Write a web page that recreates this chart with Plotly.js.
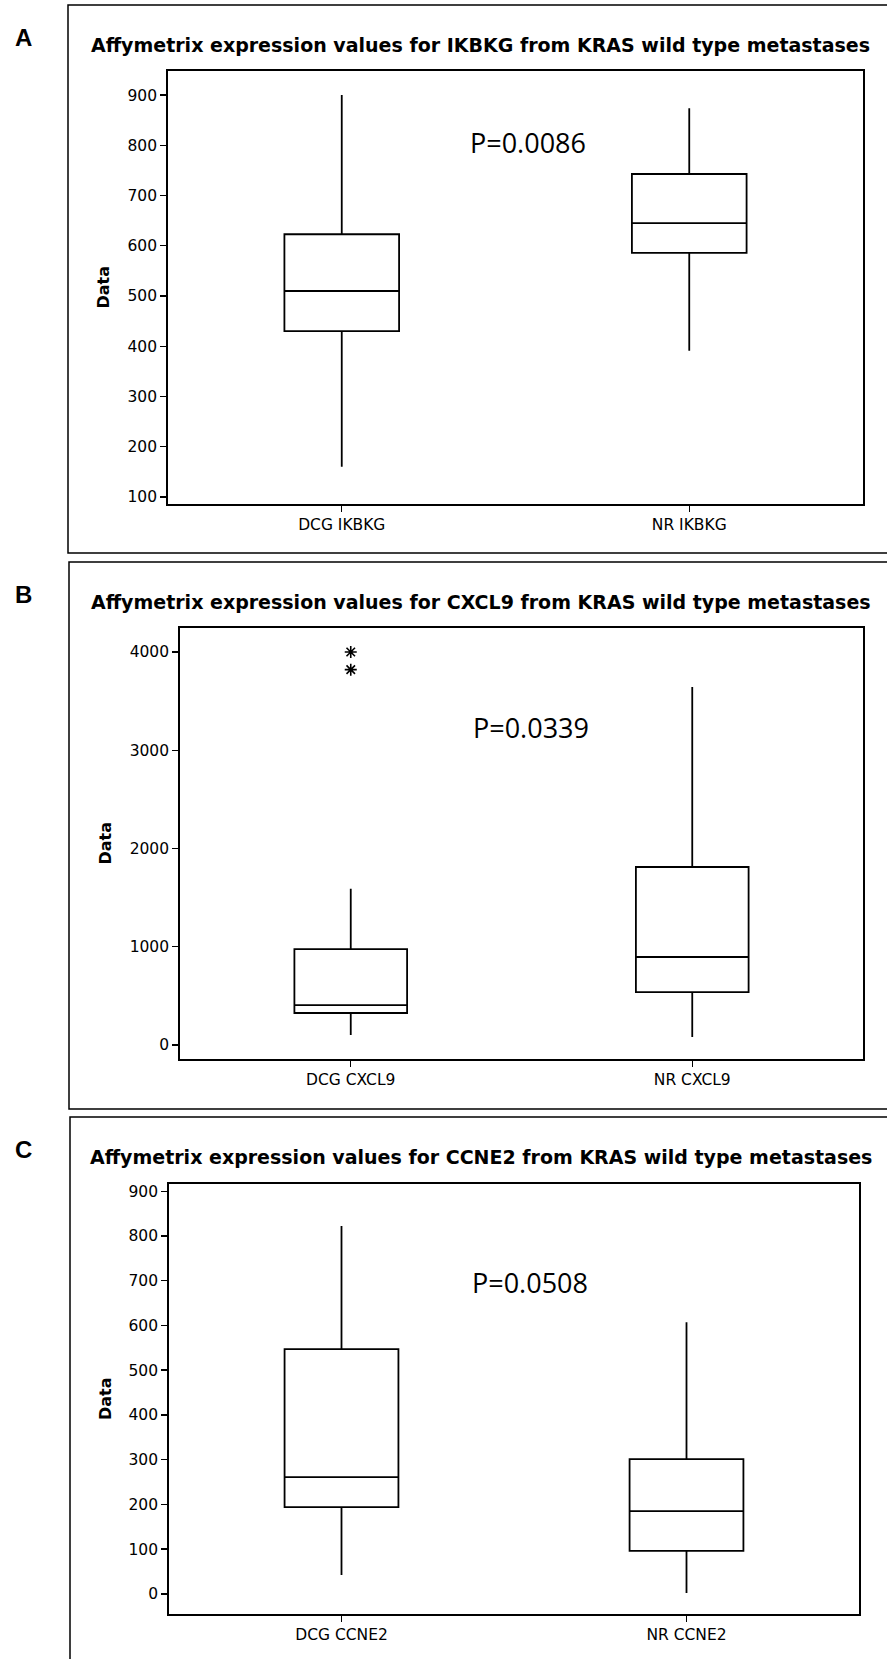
<!DOCTYPE html>
<html>
<head>
<meta charset="utf-8">
<script src="https://cdn.plot.ly/plotly-3.0.1.min.js"></script>
<style>
  html, body { margin: 0; padding: 0; background: #ffffff; }
  #chart { width: 887px; height: 1659px; }
</style>
</head>
<body>
<div id="chart"></div>
<script>
// ---------- Data ----------
// Panel A: IKBKG
const groupsA = ['DCG IKBKG', 'NR IKBKG'];
const lowA  = [160, 391];
const q1A   = [430, 586];
const medA  = [510, 645];
const q3A   = [623, 743];
const highA = [900, 874];

// Panel B: CXCL9
const groupsB = ['DCG CXCL9', 'NR CXCL9'];
const lowB  = [102, 81];
const q1B   = [326, 539];
const medB  = [407, 896];
const q3B   = [977, 1812];
const highB = [1590, 3644];
const outlierGroupB = ['DCG CXCL9', 'DCG CXCL9'];
const outlierValB   = [4000, 3820];

// Panel C: CCNE2
const groupsC = ['DCG CCNE2', 'NR CCNE2'];
const lowC  = [42, 2];
const q1C   = [194, 96];
const medC  = [261, 185];
const q3C   = [547, 301];
const highC = [822, 607];

const panelLabels = ['A', 'B', 'C'];
const panelTitles = [
  'Affymetrix expression values for IKBKG from KRAS wild type metastases',
  'Affymetrix expression values for CXCL9 from KRAS wild type metastases',
  'Affymetrix expression values for CCNE2 from KRAS wild type metastases'
];
const pValues = ['P=0.0086', 'P=0.0339', 'P=0.0508'];
const yTitle = 'Data';

// ---------- Layout helpers ----------
const W = 887, H = 1659;
const px = x => x / W;
const py = y => 1 - y / H;

const tickFont = { family: 'DejaVu Sans, Verdana, sans-serif', size: 15.5, color: '#000' };

function boxTrace(groups, low, q1, med, q3, high, xa, ya) {
  return {
    type: 'box',
    x: groups,
    lowerfence: low, q1: q1, median: med, q3: q3, upperfence: high,
    xaxis: xa, yaxis: ya,
    boxpoints: false,
    width: 0.33,
    whiskerwidth: 0,
    fillcolor: '#ffffff',
    line: { color: '#000000', width: 1.8 },
    showlegend: false,
    hoverinfo: 'y'
  };
}

const traces = [
  boxTrace(groupsA, lowA, q1A, medA, q3A, highA, 'x', 'y'),
  boxTrace(groupsB, lowB, q1B, medB, q3B, highB, 'x2', 'y2'),
  {
    type: 'scatter', mode: 'markers',
    x: outlierGroupB, y: outlierValB,
    xaxis: 'x2', yaxis: 'y2',
    marker: { symbol: 'asterisk-open', size: 10, color: '#000', line: { color: '#000', width: 1.6 } },
    showlegend: false
  },
  boxTrace(groupsC, lowC, q1C, medC, q3C, highC, 'x3', 'y3')
];

function xAxis(domain, cats, anchor) {
  return {
    domain: domain,
    anchor: anchor,
    type: 'category',
    categoryorder: 'array', categoryarray: cats,
    range: [-0.5, 1.5],
    showline: true, mirror: true, linecolor: '#000', linewidth: 1.8,
    showgrid: false, zeroline: false,
    ticks: 'outside', ticklen: 6, tickwidth: 1.3, tickcolor: '#000',
    tickfont: tickFont,
    fixedrange: true
  };
}
function yAxis(domain, range, tick0, dtick, anchor) {
  return {
    domain: domain,
    anchor: anchor,
    range: range,
    tick0: tick0, dtick: dtick,
    showline: true, mirror: true, linecolor: '#000', linewidth: 1.8,
    showgrid: false, zeroline: false,
    ticks: 'outside', ticklen: 6, tickwidth: 1.3, tickcolor: '#000',
    tickfont: tickFont,
    fixedrange: true
  };
}

// Panel geometry (pixels): frame tops, plot boxes
const frames = [
  { x0: 68, y0: 5,    y1: 553 },
  { x0: 69, y0: 562,  y1: 1109 },
  { x0: 70, y0: 1117, y1: 1680 }
];
const plots = [
  { l: 168, r: 863, t: 71,   b: 504 },
  { l: 180, r: 863, t: 628,  b: 1059 },
  { l: 169, r: 859, t: 1184, b: 1614 }
];

const layout = {
  width: W, height: H,
  margin: { l: 0, r: 0, t: 0, b: 0, pad: 0 },
  paper_bgcolor: '#ffffff', plot_bgcolor: '#ffffff',
  showlegend: false,
  xaxis:  xAxis([px(plots[0].l), px(plots[0].r)], groupsA, 'y'),
  yaxis:  yAxis([py(plots[0].b), py(plots[0].t)], [86, 948], 100, 100, 'x'),
  xaxis2: xAxis([px(plots[1].l), px(plots[1].r)], groupsB, 'y2'),
  yaxis2: yAxis([py(plots[1].b), py(plots[1].t)], [-142, 4244], 0, 1000, 'x2'),
  xaxis3: xAxis([px(plots[2].l), px(plots[2].r)], groupsC, 'y3'),
  yaxis3: yAxis([py(plots[2].b), py(plots[2].t)], [-45, 916], 0, 100, 'x3'),
  shapes: frames.map(f => ({
    type: 'rect', xref: 'paper', yref: 'paper',
    x0: px(f.x0), x1: px(W + 20), y0: py(f.y1), y1: py(f.y0),
    line: { color: '#000', width: 1.5 }, fillcolor: 'rgba(0,0,0,0)', layer: 'below'
  })),
  annotations: []
};

const labelY = [37, 594, 1149];
const titleY = [45, 602, 1157];
const pPos = [ { x: 528, y: 142 }, { x: 531, y: 727 }, { x: 530, y: 1282 } ];
const yTitleX = [103, 105, 105];

for (let i = 0; i < 3; i++) {
  layout.annotations.push({
    xref: 'paper', yref: 'paper', x: px(23), y: py(labelY[i]),
    xanchor: 'center', yanchor: 'middle', showarrow: false,
    text: panelLabels[i],
    font: { family: 'Liberation Sans, Arial, sans-serif', size: 24, weight: 700, color: '#000' }
  });
  layout.annotations.push({
    xref: 'paper', yref: 'paper', x: px(481), y: py(titleY[i]),
    xanchor: 'center', yanchor: 'middle', showarrow: false,
    text: panelTitles[i],
    font: { family: 'DejaVu Sans, Verdana, sans-serif', size: 19, weight: 700, color: '#000' }
  });
  layout.annotations.push({
    xref: 'paper', yref: 'paper', x: px(pPos[i].x), y: py(pPos[i].y),
    xanchor: 'center', yanchor: 'middle', showarrow: false,
    text: pValues[i],
    font: { family: 'Open Sans, sans-serif', size: 27, color: '#000' }
  });
  const p = plots[i];
  layout.annotations.push({
    xref: 'paper', yref: 'paper', x: px(yTitleX[i]), y: py((p.t + p.b) / 2),
    xanchor: 'center', yanchor: 'middle', showarrow: false, textangle: -90,
    text: yTitle,
    font: { family: 'DejaVu Sans, Verdana, sans-serif', size: 16, weight: 700, color: '#000' }
  });
}

Plotly.newPlot('chart', traces, layout, { staticPlot: true, displayModeBar: false });
</script>
</body>
</html>
